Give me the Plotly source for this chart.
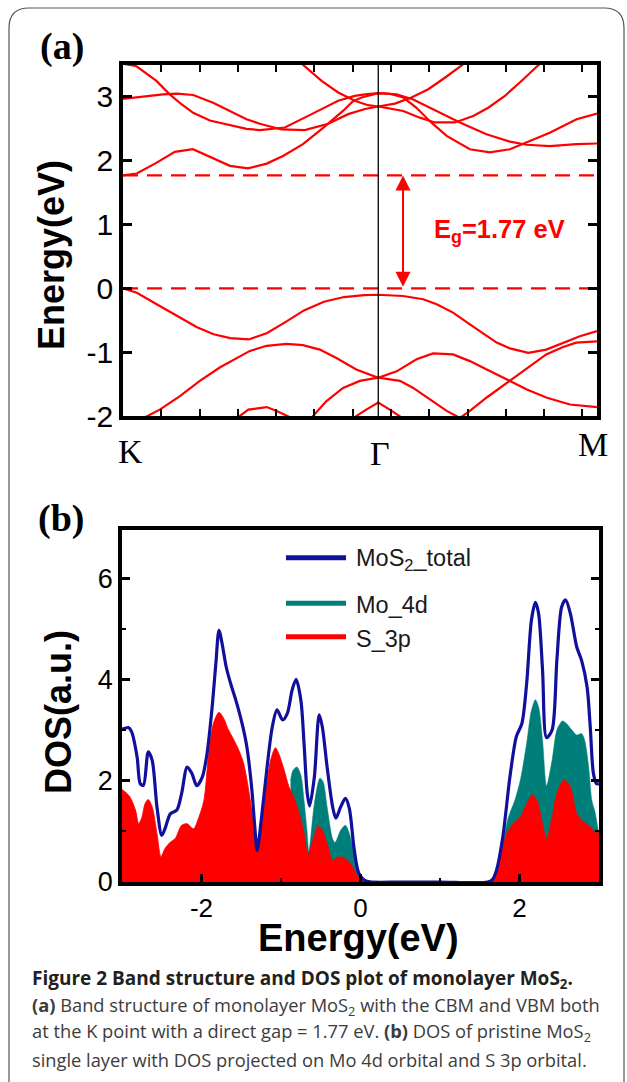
import plotly.graph_objects as go

W, H = 627, 1082

# ---------------- Panel (a): band structure ----------------
k_points = [0.0, 1.0, 1.857]
k_labels = ["K", "Γ", "M"]
vbm_ev = 0.0
gap_ev = 1.77
gap_label = "E<sub>g</sub>=1.77 eV"
arrow_k = 1.097

vb1_k = [0, 0.054, 0.132, 0.211, 0.29, 0.355, 0.42, 0.493, 0.565, 0.644, 0.709, 0.787, 0.866, 0.945, 1.0,
         1.097, 1.176, 1.229, 1.293, 1.359, 1.425, 1.464, 1.516, 1.588, 1.658, 1.724, 1.790, 1.857]
vb1_e = [0.0, -0.068, -0.25, -0.43, -0.61, -0.72, -0.78, -0.80, -0.70, -0.51, -0.345, -0.21, -0.136, -0.105, -0.10,
         -0.12, -0.17, -0.25, -0.38, -0.565, -0.75, -0.85, -0.94, -1.01, -0.96, -0.85, -0.75, -0.67]

vb2_k = [0, 0.085, 0.144, 0.223, 0.301, 0.379, 0.445, 0.497, 0.563, 0.641, 0.705, 0.771, 0.836, 0.914, 1.0,
         1.072, 1.150, 1.215, 1.293, 1.359, 1.425, 1.516, 1.580, 1.658, 1.751, 1.857]
vb2_e = [-2.2, -2.02, -1.90, -1.69, -1.45, -1.24, -1.09, -0.98, -0.90, -0.87, -0.89, -0.96, -1.09, -1.27, -1.40,
         -1.30, -1.11, -1.02, -1.035, -1.14, -1.27, -1.45, -1.58, -1.71, -1.82, -1.86]

vb3_k = [0.70, 0.745, 0.796, 0.862, 0.928, 1.0, 1.085, 1.137, 1.202, 1.268, 1.320, 1.359, 1.425, 1.516,
         1.594, 1.658, 1.724, 1.776, 1.857]
vb3_e = [-2.2, -2.0, -1.77, -1.56, -1.45, -1.40, -1.45, -1.56, -1.74, -1.92, -2.03, -1.92, -1.71, -1.45,
         -1.22, -1.035, -0.92, -0.85, -0.83]

vb4_k = [0.42, 0.451, 0.491, 0.563, 0.602, 0.66, 0.69]
vb4_e = [-2.15, -2.02, -1.90, -1.86, -1.92, -2.03, -2.15]

vb5_k = [0.88, 0.914, 0.953, 1.0, 1.045, 1.09, 1.12]
vb5_e = [-2.15, -2.0, -1.90, -1.79, -1.90, -2.02, -2.15]

cb1_k = [0, 0.054, 0.132, 0.203, 0.274, 0.347, 0.419, 0.490, 0.563, 0.627, 0.705, 0.783, 0.817, 0.862, 0.900,
         0.935, 1.0, 1.045, 1.098, 1.150, 1.202, 1.268, 1.359, 1.437, 1.516, 1.568, 1.672, 1.777, 1.857]
cb1_e = [1.77, 1.80, 1.97, 2.14, 2.18, 2.05, 1.92, 1.88, 1.955, 2.075, 2.26, 2.51, 2.62, 2.78, 2.93,
         2.99, 3.06, 3.05, 2.99, 2.83, 2.62, 2.39, 2.18, 2.13, 2.18, 2.27, 2.44, 2.65, 2.74]

cb2_k = [0, 0.053, 0.131, 0.183, 0.229, 0.275, 0.340, 0.419, 0.484, 0.536, 0.595, 0.634, 0.739, 0.843, 0.908,
         0.948, 1.0, 1.072, 1.137, 1.228, 1.320, 1.424, 1.516, 1.581, 1.672, 1.777, 1.857]
cb2_e = [3.52, 3.48, 3.25, 3.04, 2.885, 2.75, 2.63, 2.556, 2.50, 2.48, 2.50, 2.52, 2.73, 2.94, 3.015,
         3.04, 3.06, 3.04, 2.96, 2.78, 2.60, 2.415, 2.30, 2.25, 2.23, 2.26, 2.27]

cb3_k = [0, 0.066, 0.157, 0.21, 0.275, 0.353, 0.432, 0.484, 0.536, 0.569, 0.621, 0.712, 0.804, 0.882, 0.948,
         1.0, 1.033, 1.098, 1.163, 1.222, 1.300, 1.372, 1.431, 1.496, 1.561, 1.627, 1.66]
cb3_e = [2.97, 3.0, 3.04, 3.05, 3.03, 2.91, 2.75, 2.65, 2.58, 2.545, 2.49, 2.48, 2.58, 2.73, 2.81,
         2.85, 2.83, 2.78, 2.675, 2.60, 2.60, 2.70, 2.83, 3.015, 3.25, 3.50, 3.62]

cb4_k = [0.65, 0.706, 0.778, 0.843, 0.908, 0.960, 1.0, 1.065, 1.130, 1.196, 1.261, 1.326, 1.38]
cb4_e = [3.75, 3.50, 3.25, 3.07, 2.94, 2.87, 2.85, 2.895, 2.99, 3.12, 3.30, 3.50, 3.65]

bands = [(vb1_k, vb1_e), (vb2_k, vb2_e), (vb3_k, vb3_e), (vb4_k, vb4_e), (vb5_k, vb5_e),
         (cb1_k, cb1_e), (cb2_k, cb2_e), (cb3_k, cb3_e), (cb4_k, cb4_e)]

e_ticks = [-2, -1, 0, 1, 2, 3]
e_ticktext = ["-2", "-1", "0", "1", "2", "3"]

# ---------------- Panel (b): DOS ----------------
tot_e = [-3.02, -2.92, -2.88, -2.81, -2.77, -2.73, -2.67, -2.62, -2.56, -2.50, -2.46, -2.39, -2.31, -2.25, -2.18,
         -2.12, -2.06, -1.99, -1.93, -1.87, -1.82, -1.78, -1.74, -1.69, -1.63, -1.57, -1.49, -1.43, -1.37, -1.33,
         -1.30, -1.25, -1.18, -1.11, -1.05, -0.98, -0.92, -0.86, -0.81, -0.75, -0.71, -0.67, -0.64, -0.58, -0.52,
         -0.48, -0.42, -0.35, -0.31, -0.25, -0.19, -0.14, -0.08, -0.02, 0.07, 0.5, 1.0, 1.6, 1.66, 1.71, 1.79,
         1.88, 1.96, 2.03, 2.09, 2.15, 2.2, 2.24, 2.29, 2.34, 2.41, 2.47, 2.53, 2.58, 2.64, 2.72, 2.78, 2.85,
         2.89, 2.93, 2.97, 3.0]
tot_dos = [3.0, 3.05, 2.97, 2.47, 1.94, 1.91, 2.57, 2.40, 1.48, 0.92, 1.05, 1.35, 1.42, 1.75, 2.27,
           2.14, 1.90, 2.07, 2.54, 3.39, 4.3, 4.97, 4.7, 4.25, 3.9, 3.6, 3.13, 2.67, 1.88, 1.1,
           0.62, 1.2, 2.2, 3.06, 3.4, 3.2, 3.33, 3.79, 4.0, 3.59, 2.73, 1.75, 1.5, 2.08, 3.3,
           3.06, 2.27, 1.48, 1.26, 1.48, 1.65, 1.45, 0.65, 0.17, 0.02, 0.0, 0.0, 0.0, 0.05, 0.23, 0.89,
           2.08, 2.87, 3.13, 3.92, 5.17, 5.52, 5.30, 4.18, 2.85, 3.0, 4.38, 5.43, 5.57, 5.30, 4.64, 4.38, 3.85,
           3.06, 2.14, 1.94, 1.94]

s3p_e = [-3.02, -2.96, -2.90, -2.83, -2.79, -2.75, -2.71, -2.67, -2.62, -2.56, -2.51, -2.46, -2.39, -2.33, -2.25,
         -2.18, -2.10, -2.04, -1.97, -1.91, -1.85, -1.78, -1.72, -1.66, -1.60, -1.53, -1.47, -1.40, -1.34, -1.30,
         -1.26, -1.19, -1.13, -1.07, -1.03, -0.96, -0.90, -0.84, -0.77, -0.71, -0.66, -0.60, -0.53, -0.48, -0.42,
         -0.35, -0.29, -0.23, -0.16, -0.10, -0.04, 0.05, 1.0, 1.6, 1.67, 1.75, 1.84, 1.92, 2.01, 2.09, 2.16,
         2.22, 2.28, 2.34, 2.41, 2.47, 2.56, 2.64, 2.72, 2.80, 2.89, 2.97, 3.0]
s3p_dos = [1.85, 1.78, 1.68, 1.42, 1.15, 1.28, 1.55, 1.63, 1.48, 0.96, 0.5, 0.66, 0.79, 0.86, 1.12,
           1.15, 1.05, 1.25, 1.61, 2.54, 3.13, 3.35, 3.23, 3.0, 2.83, 2.60, 2.34, 1.75, 1.09, 0.6,
           0.96, 1.81, 2.41, 2.65, 2.54, 2.21, 1.88, 1.68, 1.35, 0.96, 0.55, 0.82, 1.1, 1.02, 0.76,
           0.43, 0.49, 0.49, 0.43, 0.30, 0.13, 0.0, 0.0, 0.0, 0.07, 0.43, 0.96, 1.15, 1.28, 1.55, 1.72,
           1.61, 1.22, 0.85, 1.28, 1.75, 2.02, 1.88, 1.35, 1.19, 1.09, 0.96, 1.0]

mo4d_e = [-0.88, -0.85, -0.80, -0.75, -0.71, -0.67, -0.65, -0.58, -0.51, -0.47, -0.42, -0.35, -0.32, -0.25, -0.19,
          -0.14, -0.08, -0.02, 0.06, 1.0, 1.6, 1.65, 1.73, 1.79, 1.86, 1.94, 2.01, 2.09, 2.15, 2.2, 2.24, 2.29,
          2.34, 2.41, 2.47, 2.54, 2.59, 2.66, 2.72, 2.78, 2.82, 2.87, 2.91, 2.95, 3.0]
mo4d_dos = [2.0, 2.2, 2.27, 2.11, 1.61, 0.96, 0.6, 1.55, 2.05, 1.98, 1.48, 0.85, 0.78, 1.02, 1.12,
            0.96, 0.56, 0.17, 0.0, 0.0, 0.0, 0.03, 0.30, 0.76, 1.28, 1.61, 2.01, 2.74, 3.39, 3.6, 3.46, 2.80,
            1.9, 2.41, 3.0, 3.18, 3.13, 3.0, 2.90, 2.93, 2.80, 2.27, 1.61, 1.38, 0.92]

dos_xticks = [-2, 0, 2]
dos_xticktext = ["-2", "0", "2"]
dos_yticks = [0, 2, 4, 6]
legend_names = ["MoS<sub>2</sub>_total", "Mo_4d", "S_3p"]

RED = "#ff0000"
BLUE = "#10109c"
TEAL = "#007f7a"
SANS = "Liberation Sans, Arial, sans-serif"
SERIF = "Liberation Serif, Times New Roman, serif"
CAPF = "Open Sans, sans-serif"


def px(x):
    return x / W


def py(y):
    return 1 - y / H


fig = go.Figure()

for kk, ee in bands:
    fig.add_trace(go.Scatter(x=kk, y=ee, mode="lines", line=dict(color=RED, width=2.2),
                             xaxis="x", yaxis="y", showlegend=False, hoverinfo="skip"))
for lvl in (vbm_ev, gap_ev):
    fig.add_trace(go.Scatter(x=[k_points[0], k_points[-1]], y=[lvl, lvl], mode="lines",
                             line=dict(color=RED, width=2.2, dash="15px,9px"),
                             xaxis="x", yaxis="y", showlegend=False, hoverinfo="skip"))

fig.add_trace(go.Scatter(x=mo4d_e, y=mo4d_dos, mode="lines", fill="tozeroy", fillcolor=TEAL,
                         line=dict(color=TEAL, width=0.5, shape="spline", smoothing=0.8),
                         xaxis="x2", yaxis="y2", showlegend=False, hoverinfo="skip"))
fig.add_trace(go.Scatter(x=s3p_e, y=s3p_dos, mode="lines", fill="tozeroy", fillcolor=RED,
                         line=dict(color=RED, width=0.8, shape="spline", smoothing=0.8),
                         xaxis="x2", yaxis="y2", showlegend=False, hoverinfo="skip"))
fig.add_trace(go.Scatter(x=tot_e, y=tot_dos, mode="lines",
                         line=dict(color=BLUE, width=3.2, shape="spline", smoothing=0.8),
                         xaxis="x2", yaxis="y2", showlegend=False, hoverinfo="skip"))

axis_common = dict(showgrid=False, zeroline=False, showline=True, linecolor="black", linewidth=3.5)

fig.update_layout(
    width=W, height=H,
    margin=dict(l=0, r=0, t=0, b=0, autoexpand=False),
    paper_bgcolor="white", plot_bgcolor="white",
    xaxis=dict(domain=[px(123), px(597)], range=[k_points[0], k_points[-1]], anchor="y",
               tick0=0, dtick=0.15, ticks="inside", ticklen=7, tickwidth=2, tickcolor="black",
               showticklabels=False, mirror="ticks", **axis_common),
    yaxis=dict(domain=[py(416), py(65)], range=[-2, 3.5], anchor="x",
               tickvals=e_ticks, ticktext=e_ticktext, ticks="inside", ticklen=9, tickwidth=2.5,
               tickcolor="black", mirror="ticks", tickfont=dict(family=SANS, size=30, color="black"),
               **axis_common),
    xaxis2=dict(domain=[px(122), px(599)], range=[-3, 3], anchor="y2",
                tickvals=dos_xticks, ticktext=dos_xticktext, ticks="inside", ticklen=8, tickwidth=2.5,
                tickcolor="black", mirror=True, ticklabelstandoff=0,
                minor=dict(dtick=1, tick0=-3, ticks="inside", ticklen=4, tickwidth=2, tickcolor="black"),
                tickfont=dict(family=SANS, size=26, color="black"), **axis_common),
    yaxis2=dict(domain=[py(882), py(530)], range=[0, 6.95], anchor="x2",
                tickvals=dos_yticks, ticks="inside", ticklen=8, tickwidth=2.5, tickcolor="black",
                mirror="ticks",
                minor=dict(dtick=1, tick0=0, ticks="inside", ticklen=4, tickwidth=2, tickcolor="black"),
                tickfont=dict(family=SANS, size=27, color="black"), **axis_common),
)

shapes = []
# Gamma vertical line
shapes.append(dict(type="line", xref="x", yref="y domain", x0=k_points[1], x1=k_points[1], y0=0, y1=1,
                   line=dict(color="black", width=1.3)))
# outer rounded frame (open at bottom)
r = 20
fx0, fx1, fy0, fy1 = 9, 624, 8, H
path = (f"M {px(fx0)} {py(fy1)} L {px(fx0)} {py(fy0 + r)} Q {px(fx0)} {py(fy0)} {px(fx0 + r)} {py(fy0)} "
        f"L {px(fx1 - r)} {py(fy0)} Q {px(fx1)} {py(fy0)} {px(fx1)} {py(fy0 + r)} L {px(fx1)} {py(fy1)}")
shapes.append(dict(type="path", xref="paper", yref="paper", path=path, line=dict(color="#555555", width=1.2)))
# legend lines for DOS
leg_y = [557.7, 603.3, 636.7]
leg_c = [BLUE, TEAL, RED]
for yy, cc in zip(leg_y, leg_c):
    shapes.append(dict(type="line", xref="paper", yref="paper", x0=px(286), x1=px(346), y0=py(yy), y1=py(yy),
                       line=dict(color=cc, width=5)))
fig.update_layout(shapes=shapes)


def label(xx, yy, text, font, **kw):
    d = dict(x=px(xx), y=py(yy), xref="paper", yref="paper", text=text, showarrow=False,
             xanchor="center", yanchor="middle", font=font)
    d.update(kw)
    return d


ann = []
ann.append(label(62, 47, "<b>(a)</b>", dict(family=SERIF, size=38, color="black")))
ann.append(label(61, 518, "<b>(b)</b>", dict(family=SERIF, size=38, color="black")))
# k-point labels
k_lab_pos = [(130, 452), (380, 453), (593, 444)]
for lab, (xx, yy) in zip(k_labels, k_lab_pos):
    ann.append(label(xx, yy, lab, dict(family=SERIF, size=34, color="black")))
ann.append(label(52, 255, "<b>Energy(eV)</b>", dict(family=SANS, size=36, color="black"), textangle=-90))
ann.append(label(58, 712, "<b>DOS(a.u.)</b>", dict(family=SANS, size=36, color="black"), textangle=-90))
ann.append(label(358, 938, "<b>Energy(eV)</b>", dict(family=SANS, size=38, color="black")))
# gap arrow and label
ann.append(dict(x=arrow_k, y=gap_ev, ax=arrow_k, ay=vbm_ev, xref="x", yref="y", axref="x", ayref="y",
                text="", showarrow=True, arrowhead=2, startarrowhead=2, arrowside="end+start",
                arrowsize=1.5, startarrowsize=1.5, arrowwidth=2, arrowcolor=RED, standoff=0, startstandoff=0))
ann.append(label(432, 231, "<b>" + gap_label + "</b>", dict(family=SANS, size=25.5, color=RED), xanchor="left"))
# legend texts
for yy, name in zip(leg_y, legend_names):
    ann.append(label(354, yy + 2, name, dict(family=SANS, size=23.5, color="#1a1a1a"), xanchor="left"))
# caption
cap_lines = [
    "<b>Figure 2 Band structure and DOS plot of monolayer MoS<sub>2</sub>.</b>",
    "<b>(a)</b> Band structure of monolayer MoS<sub>2</sub> with the CBM and VBM both",
    "at the K point with a direct gap = 1.77 eV. <b>(b)</b> DOS of pristine MoS<sub>2</sub>",
    "single layer with DOS projected on Mo 4d orbital and S 3p orbital.",
]
cap_y = [979, 1006, 1032, 1059]
cap_size = [19, 18.3, 18.3, 18.3]
for i, (txt, yy, sz) in enumerate(zip(cap_lines, cap_y, cap_size)):
    ann.append(label(30, yy, txt, dict(family=CAPF, size=sz, color="#231f20" if i == 0 else "#3c3c3c"),
                     xanchor="left"))
fig.update_layout(annotations=ann)

fig.write_html("out.html", config={"displayModeBar": False},
               post_script="document.body.style.margin='0px';")
